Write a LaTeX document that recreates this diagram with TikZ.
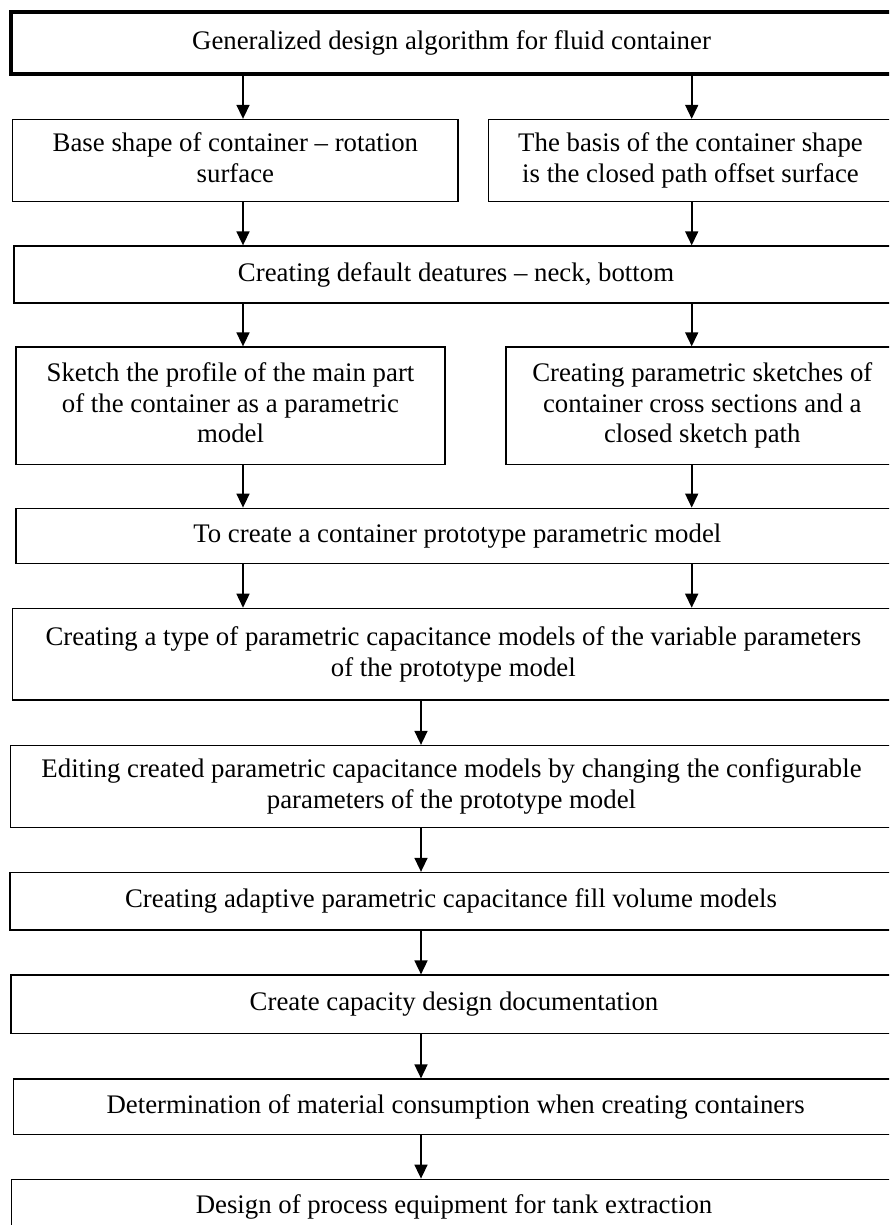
\documentclass[tikz,border=0pt]{standalone}
\usepackage{fontspec}
\setmainfont{Liberation Serif}
\usetikzlibrary{arrows.meta}
\newcommand{\topstrut}{\rule{0pt}{18.6pt}}
\newcommand{\botstrut}{\rule[-5.8pt]{0pt}{5.8pt}}
\begin{document}
\begin{tikzpicture}[x=1pt,y=-1pt,
  box/.style={draw, line width=1.3pt, align=center, inner sep=0pt,
    font=\fontsize{26.8}{30.7}\selectfont,
    execute at begin node=\topstrut, execute at end node=\botstrut},
  topbox/.style={box, line width=3.2pt},
  arr/.style={line width=1.6pt, -{Triangle[length=14pt,width=13pt]}}]
\useasboundingbox (0,0) rectangle (889,1225);
\clip (0,0) rectangle (889,1225);
\coordinate (xl) at (243,0);
\coordinate (xr) at (691.7,0);
\coordinate (xm) at (421,0);
\node[topbox, minimum width=881pt, minimum height=62pt] (b1) at (451.5,43)
  {Generalized design algorithm for fluid container};
\node[box, minimum width=445.4pt, minimum height=82pt] (b2a) at (235.4,160.5)
  {Base shape of container -- rotation\\surface};
\node[box, minimum width=403.6pt, minimum height=82pt] (b2b) at (690.5,160.5)
  {The basis of the container shape\\is the closed path offset surface};
\node[box, minimum width=884pt, minimum height=57pt] (b3) at (456,274.5)
  {Creating default deatures -- neck, bottom};
\node[box, minimum width=429pt, minimum height=117.5pt] (b4a) at (230.5,405.75)
  {Sketch the profile of the main part\\of the container as a parametric\\model};
\node[box, minimum width=392.6pt, minimum height=117.5pt] (b4b) at (702.3,405.75)
  {Creating parametric sketches of\\container cross sections and a\\closed sketch path};
\node[box, minimum width=882.6pt, minimum height=55.5pt] (b5) at (457.3,536)
  {To create a container prototype parametric model};
\node[box, minimum width=881.2pt, minimum height=91.7pt] (b6) at (453.3,654.2)
  {Creating a type of parametric capacitance models of the variable parameters\\of the prototype model};
\node[box, minimum width=881.6pt, minimum height=82.2pt] (b7) at (451.5,786.6)
  {Editing created parametric capacitance models by changing the configurable\\parameters of the prototype model};
\node[box, minimum width=882pt, minimum height=57.5pt] (b8) at (451,901.25)
  {Creating adaptive parametric capacitance fill volume models};
\node[box, minimum width=886pt, minimum height=58.3pt] (b9) at (454,1004.2)
  {Create capacity design documentation};
\node[box, minimum width=884pt, minimum height=55.3pt] (b10) at (455.6,1106.7)
  {Determination of material consumption when creating containers};
\node[box, minimum width=885.4pt, minimum height=55.5pt] (b11) at (454,1207)
  {Design of process equipment for tank extraction};
\draw[arr] (b1.south -| xl) -- (b2a.north -| xl);
\draw[arr] (b1.south -| xr) -- (b2b.north -| xr);
\draw[arr] (b2a.south -| xl) -- (b3.north -| xl);
\draw[arr] (b2b.south -| xr) -- (b3.north -| xr);
\draw[arr] (b3.south -| xl) -- (b4a.north -| xl);
\draw[arr] (b3.south -| xr) -- (b4b.north -| xr);
\draw[arr] (b4a.south -| xl) -- (b5.north -| xl);
\draw[arr] (b4b.south -| xr) -- (b5.north -| xr);
\draw[arr] (b5.south -| xl) -- (b6.north -| xl);
\draw[arr] (b5.south -| xr) -- (b6.north -| xr);
\draw[arr] (b6.south -| xm) -- (b7.north -| xm);
\draw[arr] (b7.south -| xm) -- (b8.north -| xm);
\draw[arr] (b8.south -| xm) -- (b9.north -| xm);
\draw[arr] (b9.south -| xm) -- (b10.north -| xm);
\draw[arr] (b10.south -| xm) -- (b11.north -| xm);
\end{tikzpicture}
\end{document}
